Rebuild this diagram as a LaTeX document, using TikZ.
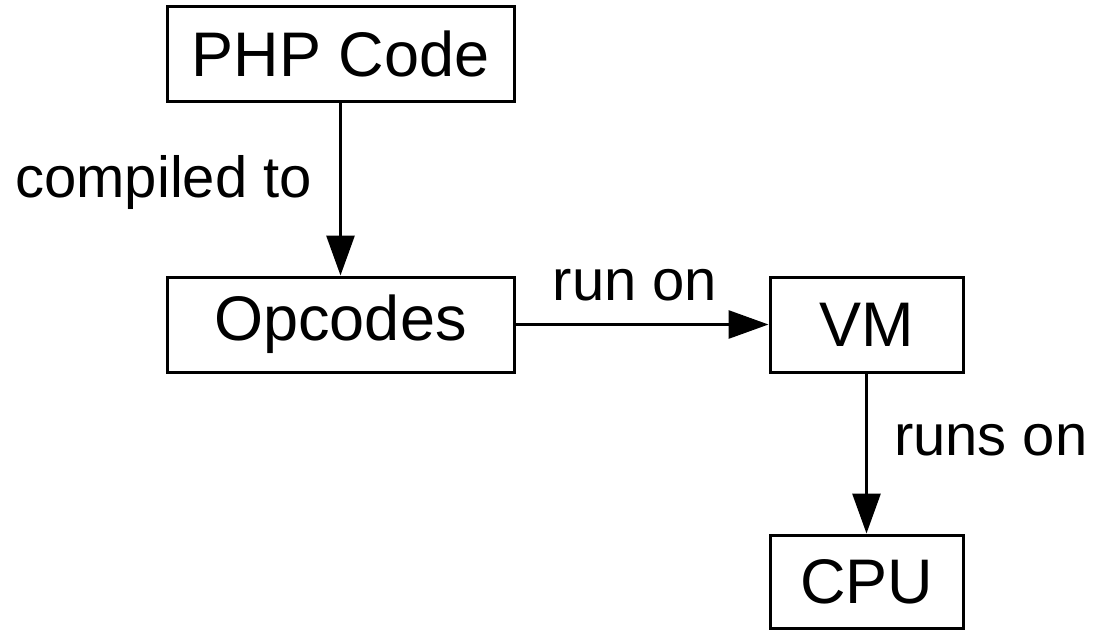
\documentclass[tikz,border=0pt]{standalone}
\usepackage{fontspec}
\setmainfont{Liberation Sans}
\usetikzlibrary{arrows.meta, positioning}
\tikzset {
    stage/.style = {
        draw,
        shape = rectangle,
        line width=3pt,
        inner sep=0pt,
        minimum height=95pt,
        font = {\fontsize{63}{72}\selectfont}
    },
    wide stage/.style = {
        stage,
        minimum width=347pt
    },
    narrow stage/.style = {
        stage,
        minimum width=193pt
    },
    edge label/.style = {
        font = {\fontsize{58}{66}\selectfont},
        inner sep=0pt
    },
    flow/.style = {
        -{Triangle[length=40pt, width=28pt]},
        line width=3pt,
        draw
    }
}
\begin{document}
\begin{tikzpicture}[x=1pt, y=1pt]
        \useasboundingbox (0, 0) rectangle (1093, -630);

        % Left column : source, opcodes
        \node [wide stage] at (340.5, -53.5)                    (php)       {PHP Code};
        \node [wide stage, below=173pt of php]                  (opcodes)   {Opcodes};

        % Right column : machine, processor
        \node [narrow stage, right=253pt of opcodes]            (vm)        {VM};
        \node [narrow stage, below=160pt of vm, minimum height=93pt] (cpu)  {CPU};

        \path [flow]    (php)       --  node [edge label, left=27pt, yshift=7pt]   {compiled to}  (opcodes);
        \path [flow]    (opcodes)   --  node [edge label, above=22pt, xshift=-7pt] {run on}       (vm);
        \path [flow]    (vm)        --  node [edge label, right=26pt, yshift=13pt] {runs on}      (cpu);
    \end{tikzpicture}
\end{document}
